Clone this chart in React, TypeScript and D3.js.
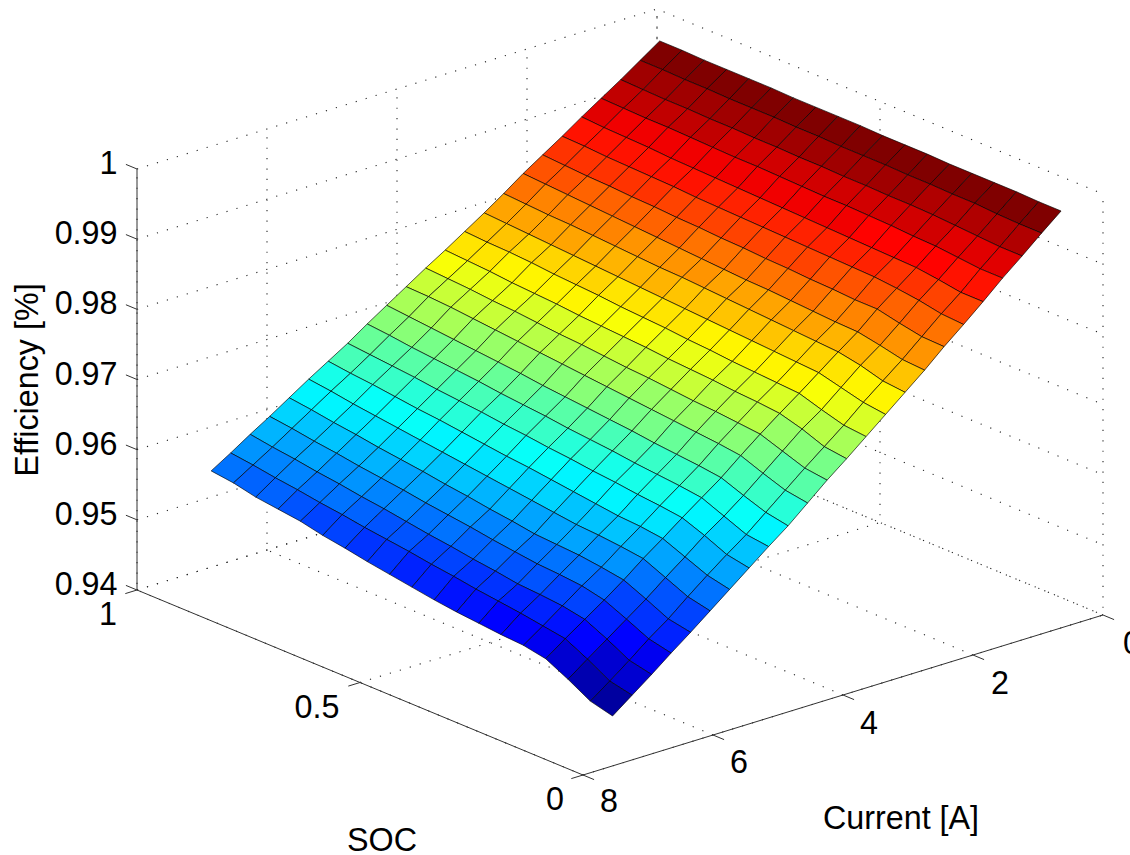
import React from "react";
import * as d3 from "d3";

// Grid of the surface
const currents = [0, 0.3, 0.6, 0.9, 1.2, 1.5, 1.8, 2.1, 2.4, 2.7, 3.0, 3.3, 3.6, 3.9, 4.2, 4.5, 4.8, 5.1, 5.4, 5.7, 6.0, 6.3, 6.6, 6.9];
const socs = [0.094, 0.144, 0.194, 0.244, 0.294, 0.344, 0.394, 0.444, 0.494, 0.544, 0.594, 0.644, 0.694, 0.744, 0.794, 0.844, 0.894, 0.944, 0.994];

// One row per current, one value per SOC
const efficiency = [
  [.9951,.9951,.9952,.9952,.9952,.9952,.9953,.9953,.9953,.9954,.9954,.9954,.9954,.9955,.9955,.9955,.9955,.9956,.9956],
  [.9928,.9928,.9929,.9931,.9931,.9932,.9932,.9933,.9933,.9933,.9934,.9934,.9935,.9935,.9935,.9936,.9936,.9937,.9937],
  [.9904,.9904,.9906,.9908,.9910,.9911,.9911,.9912,.9912,.9913,.9913,.9914,.9914,.9915,.9915,.9916,.9916,.9917,.9918],
  [.9881,.9881,.9884,.9887,.9888,.9890,.9891,.9892,.9892,.9893,.9894,.9895,.9895,.9896,.9897,.9898,.9898,.9899,.9900],
  [.9856,.9856,.9861,.9865,.9866,.9867,.9868,.9869,.9870,.9871,.9872,.9873,.9874,.9875,.9876,.9878,.9879,.9880,.9882],
  [.9832,.9834,.9840,.9844,.9847,.9848,.9849,.9850,.9851,.9852,.9853,.9854,.9855,.9857,.9858,.9859,.9860,.9862,.9863],
  [.9809,.9810,.9816,.9823,.9823,.9825,.9826,.9828,.9829,.9831,.9832,.9834,.9835,.9837,.9838,.9840,.9841,.9843,.9845],
  [.9784,.9786,.9793,.9799,.9800,.9802,.9804,.9806,.9807,.9809,.9811,.9813,.9815,.9817,.9819,.9821,.9823,.9825,.9827],
  [.9761,.9764,.9773,.9779,.9781,.9783,.9785,.9787,.9789,.9791,.9793,.9794,.9796,.9798,.9800,.9802,.9803,.9805,.9807],
  [.9738,.9742,.9750,.9758,.9760,.9762,.9764,.9766,.9768,.9770,.9772,.9774,.9776,.9778,.9780,.9782,.9784,.9786,.9788],
  [.9715,.9718,.9727,.9737,.9739,.9741,.9743,.9746,.9748,.9751,.9753,.9755,.9758,.9760,.9762,.9765,.9767,.9768,.9770],
  [.9692,.9696,.9708,.9717,.9720,.9722,.9725,.9727,.9729,.9732,.9734,.9736,.9738,.9741,.9743,.9745,.9748,.9750,.9752],
  [.9670,.9674,.9685,.9696,.9699,.9702,.9704,.9707,.9710,.9712,.9715,.9718,.9720,.9723,.9726,.9728,.9731,.9733,.9735],
  [.9646,.9651,.9662,.9674,.9678,.9681,.9684,.9687,.9690,.9693,.9696,.9699,.9702,.9705,.9708,.9711,.9714,.9716,.9717],
  [.9622,.9628,.9639,.9651,.9655,.9658,.9661,.9665,.9668,.9671,.9674,.9677,.9681,.9684,.9687,.9690,.9693,.9696,.9699],
  [.9601,.9605,.9618,.9631,.9635,.9638,.9641,.9645,.9648,.9651,.9655,.9658,.9661,.9665,.9668,.9671,.9674,.9678,.9681],
  [.9579,.9585,.9599,.9611,.9615,.9618,.9622,.9625,.9629,.9632,.9636,.9639,.9643,.9646,.9649,.9653,.9656,.9659,.9662],
  [.9557,.9564,.9577,.9590,.9594,.9596,.9600,.9604,.9608,.9612,.9615,.9619,.9623,.9627,.9630,.9634,.9638,.9641,.9645],
  [.9535,.9542,.9556,.9570,.9574,.9577,.9579,.9583,.9587,.9591,.9595,.9599,.9603,.9607,.9611,.9615,.9619,.9624,.9628],
  [.9513,.9519,.9534,.9548,.9553,.9557,.9559,.9561,.9566,.9570,.9575,.9579,.9584,.9588,.9592,.9597,.9601,.9606,.9610],
  [.9492,.9499,.9514,.9528,.9535,.9538,.9540,.9544,.9548,.9553,.9557,.9561,.9566,.9570,.9574,.9579,.9583,.9588,.9592],
  [.9470,.9477,.9494,.9509,.9515,.9518,.9520,.9525,.9529,.9534,.9538,.9543,.9548,.9552,.9557,.9561,.9566,.9570,.9575],
  [.9449,.9456,.9474,.9490,.9495,.9500,.9504,.9508,.9513,.9517,.9522,.9526,.9530,.9535,.9539,.9544,.9548,.9553,.9557],
  [.9428,.9436,.9454,.9470,.9476,.9478,.9481,.9484,.9488,.9493,.9498,.9503,.9509,.9514,.9521,.9525,.9529,.9536,.9540],
];

// Axis ticks
const currentTicks = [0, 2, 4, 6, 8];
const socTicks = [0, 0.5, 1];
const socTickLabels = ["0", "0.5", "1"];
const effTicks = [0.94, 0.95, 0.96, 0.97, 0.98, 0.99, 1];
const effTickLabels = ["0.94", "0.95", "0.96", "0.97", "0.98", "0.99", "1"];

// Oblique projection of (current, SOC, efficiency) to the page
const ORIGIN_X = 1103;
const ORIGIN_Y = 615;
const cx = d3.scaleLinear().domain([0, 8]).range([0, -520]);
const cy = d3.scaleLinear().domain([0, 8]).range([0, 160]);
const sx = d3.scaleLinear().domain([0, 1]).range([0, -446]);
const sy = d3.scaleLinear().domain([0, 1]).range([0, -185]);
const zy = d3.scaleLinear().domain([0.94, 1]).range([0, -421]);
const project = (c: number, s: number, z: number): [number, number] => [
  ORIGIN_X + cx(c) + sx(s),
  ORIGIN_Y + cy(c) + sy(s) + zy(z),
];

// 64-level jet colormap over the range of the surface
const jet = d3
  .scaleLinear<string>()
  .domain([0, 0.125, 0.375, 0.625, 0.875, 1])
  .range(["#000080", "#0000ff", "#00ffff", "#ffff00", "#ff0000", "#800000"]);
const jetLevels = d3.range(64).map((i) => jet(i / 63));
const colour = d3.scaleQuantize<string>().domain([0.9428, 0.9956]).range(jetLevels);

const line = d3.line<[number, number]>();
const FONT = "'Liberation Sans', Arial, Helvetica, sans-serif";
const FONT_SIZE = 32.3;
const DOT = { stroke: "#262626", strokeWidth: 1.1, strokeDasharray: "1.2 9.2", fill: "none" };
const AXIS = { stroke: "#333", strokeWidth: 1, fill: "none" };
const TICK_Z = 12 / 483;

export default function App() {
  const grid: string[] = [];
  effTicks.forEach((z) => {
    grid.push(line([project(8, 1, z), project(0, 1, z), project(0, 0, z)])!);
  });
  currentTicks.forEach((c) => {
    grid.push(line([project(c, 0, 0.94), project(c, 1, 0.94), project(c, 1, 1)])!);
  });
  socTicks.forEach((s) => {
    grid.push(line([project(8, s, 0.94), project(0, s, 0.94), project(0, s, 1)])!);
  });

  const cells: { d: string; fill: string; key: string }[] = [];
  for (let i = 0; i < currents.length - 1; i++) {
    for (let j = socs.length - 2; j >= 0; j--) {
      const d =
        line([
          project(currents[i], socs[j], efficiency[i][j]),
          project(currents[i], socs[j + 1], efficiency[i][j + 1]),
          project(currents[i + 1], socs[j + 1], efficiency[i + 1][j + 1]),
          project(currents[i + 1], socs[j], efficiency[i + 1][j]),
        ])! + "Z";
      cells.push({ d, fill: colour(efficiency[i][j]), key: `${i}-${j}` });
    }
  }

  const zTicks = effTicks.map((z) => {
    const a = project(8, 1, z);
    const b = project(8, 1 + TICK_Z, z);
    return line([a, b])!;
  });
  const cTicks = currentTicks.map((c) => line([project(c, 0, 0.94), project(c, -TICK_Z, 0.94)])!);
  const sTicks = socTicks.map((s) => line([project(8, s, 0.94), project(8.18, s, 0.94)])!);

  const currentLabelPos: [number, number][] = [
    [1132, 654],
    [1000, 694],
    [869, 733.5],
    [739, 773],
    [609, 812],
  ];
  const socLabelPos: [number, number][] = [
    [555, 810],
    [317, 718],
    [108, 625],
  ];

  return (
    <svg
      width={1130}
      height={855}
      viewBox="0 0 1130 855"
      style={{ position: "absolute", left: 0, top: 0, background: "#fff" }}
      fontFamily={FONT}
      fill="#000"
    >
      {grid.map((d, i) => (
        <path key={i} d={d} {...DOT} />
      ))}
      <path d={line([project(8, 1, 1), project(8, 1, 0.94), project(8, 0, 0.94), project(0, 0, 0.94)])!} {...AXIS} />
      {[...zTicks, ...cTicks, ...sTicks].map((d, i) => (
        <path key={i} d={d} {...AXIS} />
      ))}
      <g>
        {cells.map((c) => (
          <path key={c.key} d={c.d} fill={c.fill} stroke="#000" strokeOpacity={0.72} strokeWidth={0.9} strokeLinejoin="round" />
        ))}
      </g>
      {effTicks.map((z, i) => (
        <text key={z} x={117.5} y={project(8, 1, z)[1] + 5} fontSize={FONT_SIZE} textAnchor="end">
          {effTickLabels[i]}
        </text>
      ))}
      {currentTicks.map((c, i) => (
        <text key={c} x={currentLabelPos[i][0]} y={currentLabelPos[i][1]} fontSize={FONT_SIZE} textAnchor="middle">
          {String(c)}
        </text>
      ))}
      {socTicks.map((s, i) => (
        <text key={s} x={socLabelPos[i][0]} y={socLabelPos[i][1]} fontSize={FONT_SIZE} textAnchor="middle">
          {socTickLabels[i]}
        </text>
      ))}
      <text x={901} y={829} fontSize={FONT_SIZE} textAnchor="middle">
        Current [A]
      </text>
      <text x={382} y={851} fontSize={FONT_SIZE} textAnchor="middle">
        SOC
      </text>
      <text transform="translate(38,380) rotate(-90)" fontSize={FONT_SIZE} textAnchor="middle">
        Efficiency [%]
      </text>
    </svg>
  );
}
